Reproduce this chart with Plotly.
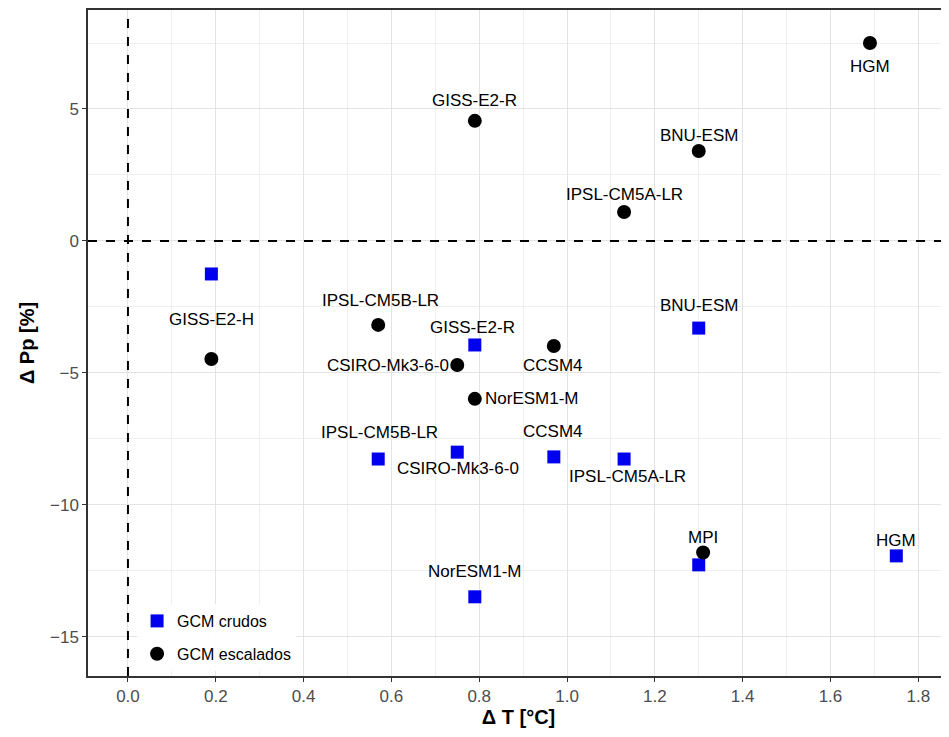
import plotly.graph_objects as go

models_scaled = ["HGM", "GISS-E2-R", "BNU-ESM", "IPSL-CM5A-LR", "IPSL-CM5B-LR",
                 "GISS-E2-H", "CCSM4", "CSIRO-Mk3-6-0", "NorESM1-M", "MPI"]
dT_scaled = [1.69, 0.79, 1.30, 1.13, 0.57, 0.19, 0.97, 0.75, 0.79, 1.31]
dP_scaled = [7.5, 4.55, 3.41, 1.10, -3.18, -4.47, -3.98, -4.70, -5.98, -11.8]

models_raw = ["GISS-E2-H", "BNU-ESM", "GISS-E2-R", "IPSL-CM5B-LR", "CSIRO-Mk3-6-0",
              "CCSM4", "IPSL-CM5A-LR", "MPI", "HGM", "NorESM1-M"]
dT_raw = [0.19, 1.30, 0.79, 0.57, 0.75, 0.97, 1.13, 1.30, 1.75, 0.79]
dP_raw = [-1.25, -3.30, -3.94, -8.26, -8.00, -8.18, -8.26, -12.27, -11.93, -13.48]

# label placement (pixel offsets, anchors) - styling only
lab_scaled = {
    "HGM": (0, -23, "center"), "GISS-E2-R": (0, 20, "center"), "BNU-ESM": (0, 15, "center"),
    "IPSL-CM5A-LR": (0, 17, "center"), "IPSL-CM5B-LR": (2, 24, "center"),
    "GISS-E2-H": (0, 39, "center"), "CCSM4": (-1, -19, "center"),
    "CSIRO-Mk3-6-0": (-6, 0, "right"), "NorESM1-M": (8, 0, "left"), "MPI": (0, 15, "center"),
}
lab_raw = {
    "BNU-ESM": (0, 23, "center"), "GISS-E2-R": (-2, 17, "center"), "IPSL-CM5B-LR": (1, 27, "center"),
    "CSIRO-Mk3-6-0": (1, -16, "center"), "CCSM4": (-1, 25, "center"),
    "IPSL-CM5A-LR": (3, -17, "center"), "HGM": (0, 15, "center"), "NorESM1-M": (0, 25, "center"),
}

FONT = "Liberation Sans, Arial, sans-serif"

fig = go.Figure()
fig.add_trace(go.Scatter(x=dT_raw, y=dP_raw, mode="markers", name="GCM crudos",
                         legendgroup="a",
                         marker=dict(symbol="square", size=13, color="#0000ee"),
                         cliponaxis=False))
fig.add_trace(go.Scatter(x=dT_scaled, y=dP_scaled, mode="markers", name="GCM escalados",
                         legendgroup="b",
                         marker=dict(symbol="circle", size=14, color="black"),
                         cliponaxis=False))

ann = []
for names, xs, ys, labs in [(models_scaled, dT_scaled, dP_scaled, lab_scaled),
                            (models_raw, dT_raw, dP_raw, lab_raw)]:
    for n, x, y in zip(names, xs, ys):
        if n not in labs:
            continue
        dx, dy, anc = labs[n]
        ann.append(dict(x=x, y=y, xref="x", yref="y", text=n, showarrow=False,
                        xanchor=anc, yanchor="middle", xshift=dx, yshift=dy,
                        font=dict(family=FONT, size=17, color="black")))

fig.add_shape(type="line", xref="x", yref="paper", x0=0, x1=0, y0=0, y1=1,
              line=dict(color="black", width=2, dash="dash"), layer="above")
fig.add_shape(type="line", xref="paper", yref="y", x0=0, x1=1, y0=0, y1=0,
              line=dict(color="black", width=2, dash="dash"), layer="above")

fig.update_layout(
    width=941, height=729,
    margin=dict(l=80, r=0, t=2, b=61, autoexpand=False),
    paper_bgcolor="white", plot_bgcolor="white",
    annotations=ann,
    showlegend=True,
    legend=dict(x=0.057, y=0.0075, xanchor="left", yanchor="bottom",
                bgcolor="rgba(255,255,255,0.9)", borderwidth=0,
                font=dict(family=FONT, size=16, color="black"),
                itemsizing="trace", tracegroupgap=9),
    font=dict(family=FONT),
)
fig.update_xaxes(range=[-0.091, 1.870], dtick=0.2, tick0=0, tickformat=".1f", automargin=False,
                 showgrid=True, gridcolor="#e3e3e3", gridwidth=1.2,
                 minor=dict(dtick=0.1, tick0=0, showgrid=True, gridcolor="#efefef", gridwidth=0.8),
                 zeroline=False, showline=True, linecolor="#333333", linewidth=1.5, mirror=True,
                 ticks="outside", ticklen=4, tickcolor="#333333",
                 tickfont=dict(family=FONT, size=17, color="#4d4d4d"),
                 title=dict(text="<b>Δ T [°C]</b>", font=dict(family=FONT, size=20, color="black"), standoff=4))
fig.update_yaxes(range=[-16.48, 8.75], tickvals=[-15, -10, -5, 0, 5], automargin=False,
                 showgrid=True, gridcolor="#e3e3e3", gridwidth=1.2,
                 minor=dict(tickvals=[-12.5, -7.5, -2.5, 2.5, 7.5], showgrid=True, gridcolor="#efefef", gridwidth=0.8),
                 zeroline=False, showline=True, linecolor="#333333", linewidth=1.5, mirror=True,
                 ticks="outside", ticklen=4, tickcolor="#333333",
                 tickfont=dict(family=FONT, size=17, color="#4d4d4d"),
                 title=dict(text="<b>Δ Pp [%]</b>", font=dict(family=FONT, size=20, color="black"), standoff=10))

fig.write_html("out.html")
